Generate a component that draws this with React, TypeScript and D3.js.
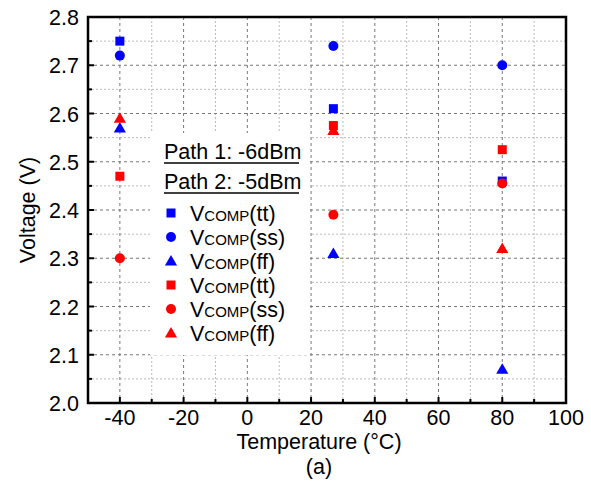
import React from "react";
import * as d3 from "d3";

const temps = [-40, 27, 80];
const blueTT = [2.75, 2.61, 2.46];
const blueSS = [2.72, 2.74, 2.70];
const blueFF = [2.57, 2.31, 2.07];
const redTT = [2.47, 2.575, 2.525];
const redSS = [2.30, 2.39, 2.455];
const redFF = [2.59, 2.565, 2.32];
const xTicks = [-40, -20, 0, 20, 40, 60, 80, 100];
const yTicks = [2.0, 2.1, 2.2, 2.3, 2.4, 2.5, 2.6, 2.7, 2.8];

const series = [
  { name: "tt", color: "#0000ff", shape: "square", values: blueTT },
  { name: "ss", color: "#0000ff", shape: "circle", values: blueSS },
  { name: "ff", color: "#0000ff", shape: "triangle", values: blueFF },
  { name: "tt", color: "#ff0000", shape: "square", values: redTT },
  { name: "ss", color: "#ff0000", shape: "circle", values: redSS },
  { name: "ff", color: "#ff0000", shape: "triangle", values: redFF },
];

const W = 591, H = 483;
const L = 88, R = 566, T = 17, B = 403;
const FONT = "'Liberation Sans', Arial, sans-serif";
const FS = 21.5;

function Marker({ shape, color, x, y }: { shape: string; color: string; x: number; y: number }) {
  if (shape === "square") return <rect x={x - 4.5} y={y - 4.5} width={9} height={9} fill={color} />;
  if (shape === "circle") return <circle cx={x} cy={y} r={5} fill={color} />;
  const p = d3.symbol(d3.symbolTriangle, 64)();
  return <path d={p || ""} transform={`translate(${x},${y + 1})`} fill={color} />;
}

export default function App() {
  const x = d3.scaleLinear().domain([-50, 100]).range([L, R]);
  const y = d3.scaleLinear().domain([2.0, 2.8]).range([B, T]);
  const xMinor = d3.range(-50, 101, 10);
  const yMinor = d3.range(0, 17).map((i) => 2.0 + i * 0.05);
  const legendY = [213, 237, 261, 285, 309, 333];
  return (
    <svg width={W} height={H} style={{ position: "absolute", left: 0, top: 0, background: "#fff" }}>
      <rect width={W} height={H} fill="#fff" />
      {xMinor.filter((v) => v % 20 !== 0 && v > -50 && v < 100).map((v) => (
        <line key={"xm" + v} x1={x(v)} x2={x(v)} y1={T} y2={B} stroke="#bbb" strokeWidth={1} strokeDasharray="2,2" />
      ))}
      {yMinor.filter((_, i) => i % 2 === 1).map((v, i) => (
        <line key={"ym" + i} x1={L} x2={R} y1={y(v)} y2={y(v)} stroke="#bbb" strokeWidth={1} strokeDasharray="2,2" />
      ))}
      {xTicks.filter((v) => v < 100).map((v) => (
        <line key={"xg" + v} x1={x(v)} x2={x(v)} y1={T} y2={B} stroke="#777" strokeWidth={1} strokeDasharray="3,3" />
      ))}
      {yTicks.filter((v) => v > 2.0 && v < 2.8).map((v) => (
        <line key={"yg" + v} x1={L} x2={R} y1={y(v)} y2={y(v)} stroke="#777" strokeWidth={1} strokeDasharray="3,3" />
      ))}
      <rect x={150} y={133} width={160} height={222} fill="#fff" />
      {series.map((s, si) =>
        s.values.map((v, i) => <Marker key={si + "-" + i} shape={s.shape} color={s.color} x={x(temps[i])} y={y(v)} />)
      )}
      <rect x={L} y={T} width={R - L} height={B - T} fill="none" stroke="#000" strokeWidth={2.5} />
      {xMinor.map((v) => (
        <line key={"xt" + v} x1={x(v)} x2={x(v)} y1={B} y2={B - (v % 20 === 0 ? 6 : 4)} stroke="#000" strokeWidth={2} />
      ))}
      {yMinor.map((v, i) => (
        <line key={"yt" + i} x1={L} x2={L + (i % 2 === 0 ? 6 : 4)} y1={y(v)} y2={y(v)} stroke="#000" strokeWidth={2} />
      ))}
      {xTicks.map((v) => (
        <text key={"xl" + v} x={x(v)} y={425} textAnchor="middle" fontFamily={FONT} fontSize={FS} fill="#000">
          {v}
        </text>
      ))}
      {yTicks.map((v) => (
        <text key={"yl" + v} x={L - 9} y={y(v) + 8} textAnchor="end" fontFamily={FONT} fontSize={FS} fill="#000">
          {v.toFixed(1)}
        </text>
      ))}
      <text x={319} y={449} textAnchor="middle" fontFamily={FONT} fontSize={FS} fill="#000">
        Temperature (°C)
      </text>
      <text x={319} y={474} textAnchor="middle" fontFamily={FONT} fontSize={FS} fill="#000">
        (a)
      </text>
      <text transform={`translate(35,${(T + B) / 2}) rotate(-90)`} textAnchor="middle" fontFamily={FONT} fontSize={FS} fill="#000">
        Voltage (V)
      </text>
      <text x={164} y={159} fontFamily={FONT} fontSize={FS} fill="#000">
        Path 1: -6dBm
      </text>
      <line x1={164} x2={299} y1={163} y2={163} stroke="#000" strokeWidth={1.5} />
      <text x={164} y={189} fontFamily={FONT} fontSize={FS} fill="#000">
        Path 2: -5dBm
      </text>
      <line x1={164} x2={299} y1={193} y2={193} stroke="#000" strokeWidth={1.5} />
      {series.map((s, i) => (
        <g key={"lg" + i}>
          <Marker shape={s.shape} color={s.color} x={171} y={legendY[i]} />
          <text x={190} y={legendY[i] + 8} fontFamily={FONT} fontSize={FS} fill="#000">
            V<tspan fontSize={15}>COMP</tspan>({s.name})
          </text>
        </g>
      ))}
    </svg>
  );
}
